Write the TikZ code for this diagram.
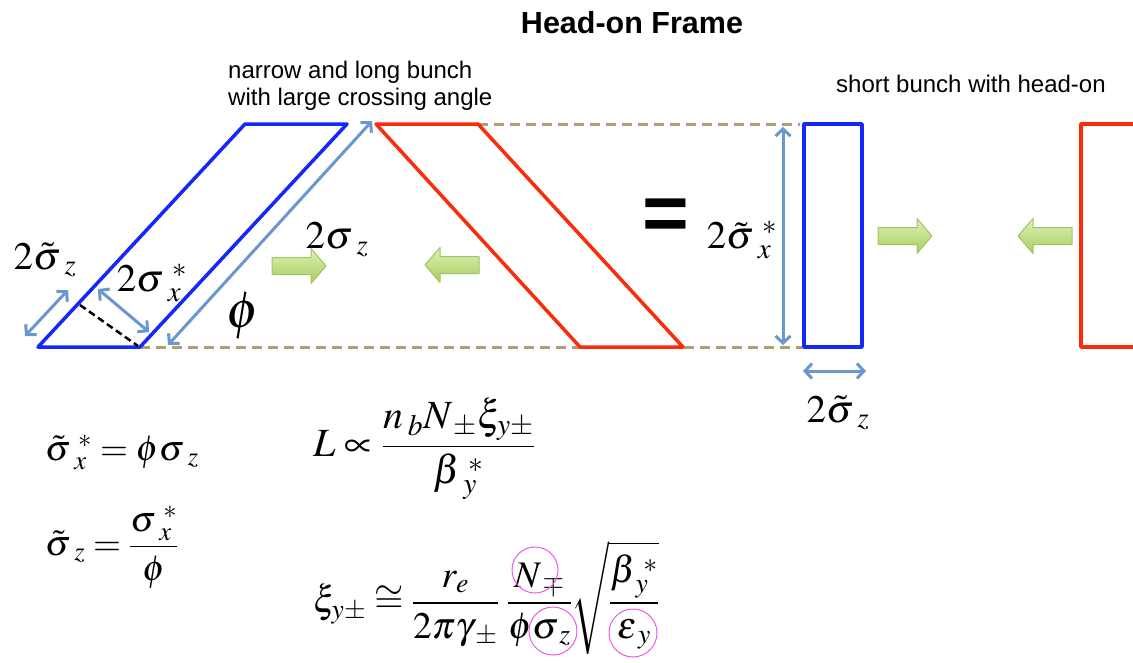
\documentclass[tikz,border=0pt]{standalone}
\usepackage{mathptmx}
\usepackage[no-math]{fontspec}
\newfontfamily\arialfont{Liberation Sans}
\usetikzlibrary{arrows.meta}
\definecolor{bluebunch}{RGB}{20,40,250}
\definecolor{redbunch}{RGB}{250,45,10}
\definecolor{dimblue}{RGB}{105,152,205}
\definecolor{tanline}{RGB}{172,160,115}
\definecolor{gtop}{RGB}{222,240,180}
\definecolor{gbot}{RGB}{168,206,96}
\definecolor{gedge}{RGB}{160,196,100}
\definecolor{circmag}{RGB}{235,90,235}
\newcommand{\gs}{\mkern5mu}
\newcommand{\gt}{\mkern3mu}
\begin{document}
\begin{tikzpicture}[x=1pt,y=-1pt,
  bunchb/.style={draw=bluebunch,line width=3.5pt,line join=round},
  bunchr/.style={draw=redbunch,line width=3.5pt,line join=round},
  dimarrow/.style={draw=dimblue,line width=3pt,{Straight Barb[length=7pt,width=15pt]}-{Straight Barb[length=7pt,width=15pt]}},
  guide/.style={draw=tanline,line width=3pt,dash pattern=on 10pt off 6pt},
  blackdash/.style={draw=black,line width=2.5pt,dash pattern=on 7pt off 4pt},
  lbl/.style={font=\fontsize{39}{44}\selectfont,inner sep=0pt},
  eqn/.style={inner sep=0pt,anchor=west},
  sanstext/.style={font=\arialfont\fontsize{24}{28}\selectfont,inner sep=0pt,anchor=base west},
  garrow/.style={draw=gedge,line width=1pt,top color=gtop,bottom color=gbot,line join=round},
  hl/.style={draw=circmag,line width=1pt},
  garrowpic/.pic={\path[garrow] (-27,-8.5) -- (12,-8.5) -- (12,-17.5) -- (27,0) -- (12,17.5) -- (12,8.5) -- (-27,8.5) -- cycle;}
]
\clip (0,0) rectangle (1133,662);
\fill[white] (0,0) rectangle (1133,662);

% title and captions
\node[font=\arialfont\bfseries\fontsize{30.5}{34}\selectfont,inner sep=0pt,anchor=base] (title) at (632,33) {Head-on Frame};
\node[sanstext] (cap1) at (228,78) {narrow and long bunch};
\node[sanstext] (cap2) at (228,105) {with large crossing angle};
\node[sanstext] (cap3) at (836,92) {short bunch with head-on};

% guide lines
\coordinate (gt1) at (478,124);
\coordinate (gt2) at (800,124);
\coordinate (gb1) at (140,347);
\coordinate (gb2) at (826,347);
\draw[guide] (gt1) -- (gt2);
\draw[guide] (gb1) -- (gb2);

% blue parallelogram
\coordinate (b1) at (38,347);
\coordinate (b2) at (140,347);
\coordinate (b3) at (347,124);
\coordinate (b4) at (245,124);
\draw[bunchb] (b1) -- (b2) -- (b3) -- (b4) -- cycle;

% red parallelogram
\coordinate (r1) at (376,124);
\coordinate (r2) at (478,124);
\coordinate (r3) at (683,347);
\coordinate (r4) at (580,347);
\draw[bunchr] (r1) -- (r2) -- (r3) -- (r4) -- cycle;

% dimension arrows, left bunch
\coordinate (la1) at (168,345);
\coordinate (la2) at (372,121);
\draw[dimarrow] (la1) -- (la2);
\coordinate (sa1) at (25,336);
\coordinate (sa2) at (68,290);
\draw[dimarrow] (sa1) -- (sa2);
\coordinate (xa1) at (98,289);
\coordinate (xa2) at (149,332);
\draw[dimarrow] (xa1) -- (xa2);
\coordinate (bd1) at (80,305);
\coordinate (bd2) at (138,346);
\draw[blackdash] (bd1) -- (bd2);

\node[lbl] (lsz) at (45,260) {$2\tilde{\sigma}_{\gs z}$};
\node[lbl] (lsx) at (152,283) {$2\sigma^{\gs *}_{\gs x}$};
\node[lbl] (lsz2) at (337,240) {$2\sigma_{\gs z}$};
\node[inner sep=0pt,font=\fontsize{52}{56}\selectfont] (lphi) at (243,316) {$\phi$};

% green arrows
\pic (g1) at (299,266) {garrowpic};
\pic[rotate=180] (g2) at (452,265) {garrowpic};
\pic (g3) at (905,236) {garrowpic};
\pic[rotate=180] (g4) at (1045,236) {garrowpic};

% equals sign
\node[font=\arialfont\bfseries\fontsize{80}{80}\selectfont,inner sep=0pt] (eq) at (666,220) {=};

% head-on bunches
\coordinate (hb1) at (804,124);
\coordinate (hb2) at (862,347);
\draw[bunchb] (hb1) rectangle (hb2);
\coordinate (hr1) at (1081,124);
\coordinate (hr2) at (1150,347);
\draw[bunchr] (hr1) rectangle (hr2);

\coordinate (va1) at (783,127);
\coordinate (va2) at (783,345);
\draw[dimarrow] (va1) -- (va2);
\coordinate (ha1) at (803,371);
\coordinate (ha2) at (866,371);
\draw[dimarrow] (ha1) -- (ha2);
\node[lbl] (rsx) at (742,240) {$2\tilde{\sigma}^{\gs *}_{\gs x}$};
\node[lbl] (rsz) at (838,413) {$2\tilde{\sigma}_{\gs z}$};

% equations
\node[eqn,font=\fontsize{36}{42}\selectfont] (e1) at (45,452) {$\tilde{\sigma}^{\gs *}_{\gs x} \mkern4mu{=}\mkern4mu \phi\sigma_{\gs z}$};
\node[eqn,font=\fontsize{36}{42}\selectfont] (e2) at (45,547) {$\displaystyle \tilde{\sigma}_{\gs z} \mkern4mu{=}\mkern4mu \frac{\sigma^{\gs *}_{\gs x}}{\phi}$};
\node[eqn,font=\fontsize{40}{46}\selectfont] (e3) at (313,449) {$\displaystyle L \propto \frac{n_{\gt b} N_{\gt\pm}\xi_{y\pm}}{\beta^{\gs *}_{\gs y}}$};
\node[eqn,font=\fontsize{37.5}{44}\selectfont] (e4) at (313,598) {$\displaystyle \xi_{y\pm} \cong \frac{r_e}{2\pi\gamma_{\gt\pm}}\mkern4mu\frac{N_{\gt\mp}}{\phi\sigma_{\gt z}}\sqrt{\frac{\beta^{\gs *}_{\gt y}}{\varepsilon_{\gt y}}}$};

% highlight circles
\coordinate (c1) at (535,570);
\coordinate (c2) at (553,631);
\coordinate (c3) at (633,633);
\draw[hl] (c1) circle (23);
\draw[hl] (c2) circle (24);
\draw[hl] (c3) circle (24);
\end{tikzpicture}
\end{document}
